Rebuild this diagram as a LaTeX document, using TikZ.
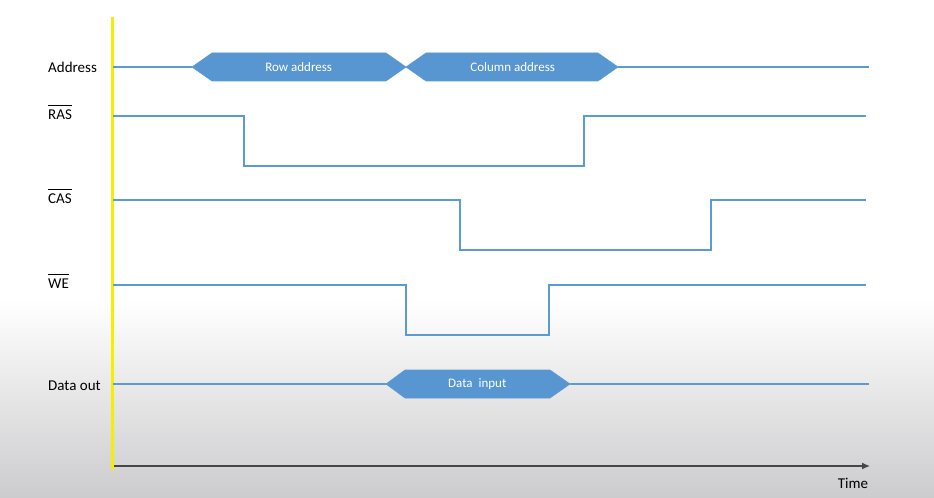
\documentclass[tikz,border=0pt]{standalone}
\usepackage{fontspec}
\setmainfont{Carlito}
\usetikzlibrary{arrows.meta}

\definecolor{sigblue}{RGB}{91,155,213}
\definecolor{busfill}{RGB}{88,150,210}
\definecolor{axisyellow}{RGB}{242,240,0}
\definecolor{axisgray}{RGB}{70,70,72}
\definecolor{bgbottom}{RGB}{204,204,206}

% active-low signal name: bar drawn above the text
\newcommand\activelow[1]{\vbox{\hrule height 0.9bp\kern 4bp\hbox{#1}}}

\begin{document}
\begin{tikzpicture}[x=1bp,y=-1bp,
  signame/.style={anchor=base west, inner sep=0pt, font=\fontsize{15bp}{18bp}\selectfont},
  wave/.style={draw=sigblue, line width=1.05bp},
  bus/.style={fill=busfill, draw=sigblue, line width=0.6bp},
  buslabel/.style={text=white, inner sep=0pt, font=\fontsize{13bp}{15bp}\selectfont},
  timeaxis/.style={draw=axisyellow, line width=3bp},
  xaxis/.style={draw=axisgray, line width=1.3bp, -{Latex[length=8bp,width=7bp]}},
]
\useasboundingbox (0,0) rectangle (934,498);

% background: white top, fading to light grey at the bottom
\fill[white] (0,0) rectangle (934,300);
\shade[top color=white, bottom color=bgbottom] (0,300) rectangle (934,498);

% axes
\coordinate (ytop) at (112.5,17);
\coordinate (ybot) at (112.5,470);
\coordinate (xstart) at (114,466);
\coordinate (xend) at (870,466);
\draw[timeaxis] (ytop) -- (ybot);
\draw[xaxis] (xstart) -- (xend);
\node[signame] (time) at (837.7,488) {Time};

% signal names
\node[signame] (addr) at (48,72.7) {Address};
\node[signame] (ras) at (48,120) {\activelow{RAS}};
\node[signame] (cas) at (48,204) {\activelow{CAS}};
\node[signame] (we) at (48,289) {\activelow{WE}};
\node[signame] (dout) at (48,390) {Data out};

% address bus
\draw[wave] (113,67) -- (192,67);
\filldraw[bus] (192,67) -- (212,53) -- (386,53) -- (406,67) -- (386,81) -- (212,81) -- cycle;
\filldraw[bus] (406,67) -- (426,53) -- (598,53) -- (618,67) -- (598,81) -- (426,81) -- cycle;
\draw[wave] (618,67) -- (869,67);
\node[buslabel] (rowaddr) at (298.7,67.5) {Row address};
\node[buslabel] (coladdr) at (512.7,67.5) {Column address};

% strobes
\draw[wave] (113,116) -- (244,116) -- (244,166) -- (584,166) -- (584,116) -- (866,116);
\draw[wave] (113,200) -- (460,200) -- (460,250) -- (711,250) -- (711,200) -- (866,200);
\draw[wave] (113,285) -- (406,285) -- (406,335) -- (549,335) -- (549,285) -- (866,285);

% data bus
\draw[wave] (113,384) -- (386,384);
\filldraw[bus] (386,384) -- (405,370) -- (550,370) -- (570,384) -- (550,398) -- (405,398) -- cycle;
\draw[wave] (570,384) -- (869,384);
\node[buslabel] (datain) at (477.3,384.5) {Data\ \ input};
\end{tikzpicture}
\end{document}
